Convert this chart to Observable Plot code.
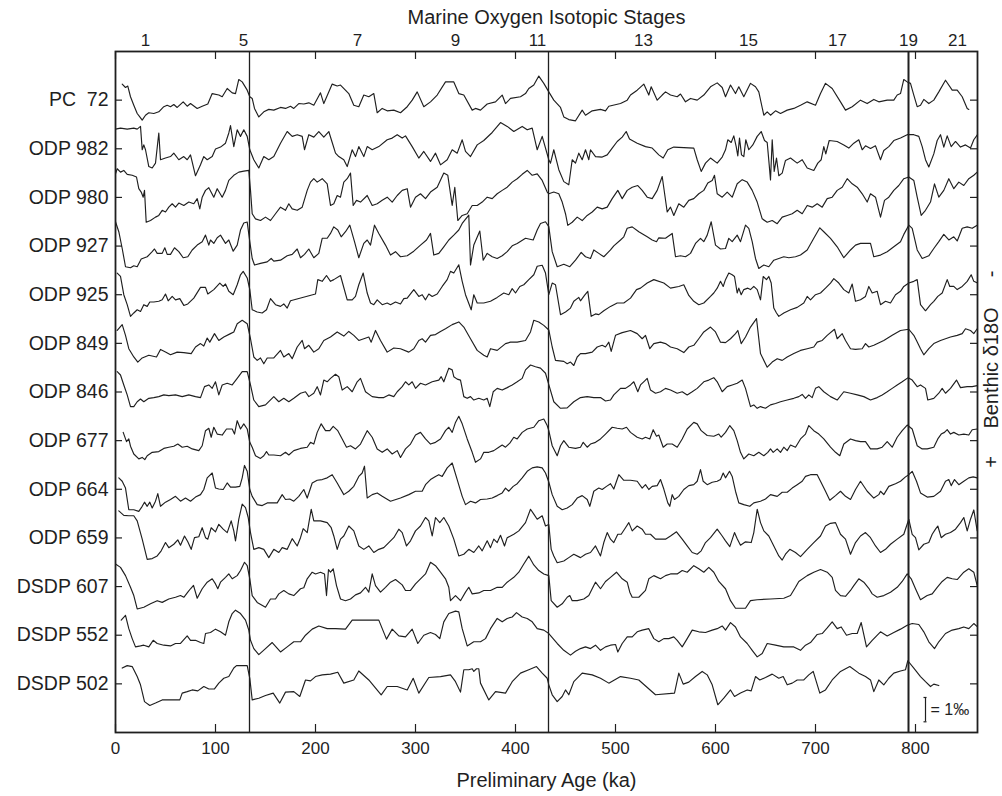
<!DOCTYPE html>
<html><head><meta charset="utf-8">
<script src="https://cdn.jsdelivr.net/npm/d3@7"></script>
<script src="https://cdn.jsdelivr.net/npm/@observablehq/plot@0.6"></script>
<style>html,body{margin:0;padding:0;background:#fff;overflow:hidden}</style>
</head><body><div id="chart"></div>
<script>
// Record names (top to bottom)
const names = ["PC\u00a0 72","ODP 982","ODP 980","ODP 927","ODP 925","ODP 849","ODP 846","ODP 677","ODP 664","ODP 659","DSDP 607","DSDP 552","DSDP 502"];
// Bottom age ticks (ka)
const ageTicks = [0,100,200,300,400,500,600,700,800];
// Stage boundaries drawn as vertical lines (ka)
const stageBoundaries = [134, 433, 793];
// Marine isotope stage labels along the top
const stageNames = ["1","5","7","9","11","13","15","17","19","21"];
const stageAges  = [30,128,242,340,422,528,633,722,793,842];

// Each record: [age (ka), benthic d18O anomaly (permil, + = heavier, plotted downward)]
const pc72 = [[6.7,-0.66],[10,-0.52],[12.3,-0.58],[15,-0.14],[18.3,0.21],[21.7,0.55],[24.3,0.69],[26.7,0.82],[30,0.62],[33.3,0.52],[38.3,0.55],[43.3,0.48],[48.3,0.27],[51.7,0.21],[55,0.27],[58.3,0.18],[61.7,0.30],[67.7,0.07],[71.7,0.25],[75,0.14],[81.7,0.34],[86.7,0.25],[92.3,0.16],[96.7,-0.27],[103.3,-0.21],[106.7,-0.14],[111.7,-0.48],[116.7,-0.30],[120,-0.27],[123.3,-0.85],[126.7,-0.75],[131.7,-0.41],[134.3,-0.14],[136.7,-0.07],[139,0.34],[143.3,0.69],[148.3,0.48],[153.3,0.38],[158.3,0.41],[165,0.30],[170,0.34],[175,0.25],[178.3,0.34],[183.3,0.14],[188.3,0.16],[193.3,0.11],[198.3,0.21],[205,-0.30],[208.3,0.14],[216.7,-0.66],[221.7,-0.58],[225,-0.62],[233.3,-0.27],[238.3,0.21],[243.3,0.27],[248.3,-0.21],[253.3,-0.14],[258.3,-0.27],[261.7,0.52],[266.7,0.34],[271.7,0.44],[278.3,0.41],[285,0.52],[291.7,0.27],[296.7,0],[301.7,-0.34],[308.3,0.27],[315,0.07],[321.7,-0.21],[330,-0.75],[338.3,-0.75],[343.3,-0.27],[348.3,-0.21],[356.7,0.41],[360,0.34],[365,0.41],[371.7,0.16],[380,0.07],[386.7,-0.21],[390,0.14],[395,-0.07],[405,-0.14],[410,-0.27],[413.3,-0.48],[418.3,-0.62],[423.3,-0.99],[428.3,-0.69],[433.3,-0.34],[438.3,0],[445,0.30],[448.3,0.69],[453.3,0.80],[460,0.85],[466.7,0.41],[470,0.62],[476.7,0.44],[485,0.38],[490,0.44],[493.3,0.25],[505,0.14],[511.7,0],[515,-0.21],[521.7,-0.41],[528.3,-0.66],[533.3,-0.21],[535.7,-0.55],[541.7,0],[546.7,-0.21],[550,-0.34],[555,-0.21],[561.7,-0.14],[565,-0.25],[570,0.07],[575,-0.07],[581.7,0],[588.3,-0.21],[595,-0.55],[601.7,-0.71],[606.7,-0.52],[610,-0.14],[615,-0.62],[620,-0.27],[623.3,-0.55],[628.3,-0.14],[635,-0.69],[640,-0.55],[643.3,-0.34],[648.3,0.62],[651.7,0.48],[655,0.62],[660,0.44],[665,0.55],[671.7,0.41],[678.3,0.34],[685,0.21],[691.7,0.07],[700,0.21],[705,-0.27],[710,-0.69],[716.7,-0.48],[725,0.07],[730,0.41],[736.7,0.27],[745,0],[751.7,0.14],[758.3,-0.03],[763.3,0.07],[771.7,0],[778.3,0],[781.7,-0.21],[785,-0.27],[788.3,-0.85],[791.7,-0.75],[795,-0.69],[798.3,-0.21],[801.7,0.27],[805,0.21],[808.3,-0.03],[813.3,0.14],[818.3,0],[823.3,-0.34],[830,-0.82],[836.7,-0.41],[841.7,-0.41],[846.7,-0.14],[851.7,0.34],[853.3,0.38]];

const odp982 = [[0,-0.81],[5,-0.85],[11.7,-0.81],[18.3,-0.85],[21.7,-0.81],[25,-0.92],[26.7,0.04],[28.3,-0.16],[30,0.04],[33.3,0.73],[36.7,0.79],[40,0.59],[43.3,-0.65],[45,0.45],[50,0.38],[55,0.32],[58.3,0.18],[63.3,0.45],[68.3,0.32],[71.7,0.45],[75,0.25],[80,1.11],[85,0.66],[88.3,0.32],[91.7,0.45],[96.7,0.32],[100,0.01],[105,-0.07],[110,-0.23],[113.3,-0.65],[115,-0.95],[118.3,-0.09],[121.7,-0.78],[125,-0.51],[128.3,-0.78],[131.7,-0.51],[134.3,0.04],[138.3,0.45],[143.3,0.79],[148.3,0.32],[153.3,0.45],[158.3,0.32],[165,-0.23],[171.7,-0.71],[176.7,-0.51],[181.7,-0.58],[186.7,-0.51],[189,0.04],[193.3,-0.58],[198.3,-0.48],[203.3,-0.71],[208.3,-0.48],[213.3,-0.71],[216.7,-0.26],[220,0.18],[223.3,0.32],[228.3,0.45],[231.7,0.73],[236.7,0.04],[240,0.32],[243.3,-0.09],[248.3,0.32],[251.7,-0.09],[256.7,0.04],[263.3,-0.09],[271.7,-0.37],[276.7,-0.44],[281.7,-0.58],[286.7,-0.44],[290,-0.53],[296.7,-0.09],[303.3,0.38],[308.3,0.11],[315,0.52],[320,0.18],[325,0.66],[331.7,0.45],[336.7,0.04],[341.7,0.18],[346.7,-0.37],[350,0.11],[355,0.32],[361.7,-0.16],[368.3,-0.34],[376.7,-0.67],[385,-1.08],[391.7,-0.92],[398.3,-0.71],[406.7,-0.92],[411.7,-0.78],[416.7,-0.85],[421.7,0.04],[426.7,-0.51],[433.3,0.45],[435,0.59],[438.3,0.04],[443.3,0.86],[448.3,1.35],[453.3,1.48],[456.7,0.45],[460,0.59],[463.3,0.18],[466.7,0.45],[470,0.04],[473.3,0.45],[475,0.04],[480,0.32],[486.7,0.34],[491.7,0.25],[496.7,-0.03],[501.7,-0.30],[506.7,-0.48],[510.7,-0.71],[514,-0.40],[521.7,-0.23],[530,-0.09],[536.7,-0.03],[543.3,0.25],[547.7,0.38],[552.3,0.04],[558.3,-0.07],[578.3,-0.03],[581.7,0.45],[585.7,0.93],[590,0.59],[595,0.38],[601.7,0.59],[606.7,0.34],[610,0.04],[612.3,-0.37],[615.7,-0.26],[618.3,-0.53],[620.7,-0.09],[622.3,0.29],[624,-0.44],[626,0.25],[628.3,0.32],[630.3,-0.37],[633.3,0.04],[637.3,-0.16],[641.7,-0.51],[645.7,-0.71],[649,-0.34],[651.7,-0.26],[653.7,0.66],[655,1.28],[656.7,-0.37],[658.7,0.93],[661,0.38],[663.3,1.11],[666.7,1.0],[670,0.48],[675,0.38],[681.7,0.59],[686.7,0.45],[691.7,0.79],[698.3,0.89],[702.3,0.59],[705.7,0.45],[708.3,-0.09],[710.3,0.21],[713.7,-0.34],[721.7,-0.30],[728.3,-0.16],[733.3,-0.03],[738.3,-0.23],[743.3,-0.37],[746.7,0.04],[750,-0.12],[755,-0.01],[760,-0.12],[765,0.45],[768.3,0.07],[773.3,-0.09],[778.3,-0.34],[785,-0.44],[791.7,-0.58],[798.3,-0.58],[803.3,-0.51],[806.7,-0.09],[810,0.45],[813.3,0.75],[818.3,0.21],[821.7,-0.34],[825,-0.58],[828.3,-0.07],[831.7,-0.53],[835.7,-0.09],[840,-0.30],[845,-0.07],[850,-0.16],[855,-0.03],[858.3,-0.37],[862,-0.58]];

const odp980 = [[0,-0.97],[1.7,-1.18],[5,-1.04],[8.3,-1.11],[11.7,-0.95],[16.7,-0.91],[21,-0.84],[23.3,-0.36],[25.7,-0.22],[27.7,-0.01],[29,-0.29],[30.7,1.02],[35,0.95],[40,0.81],[43.3,0.74],[46.7,0.53],[50,0.60],[53.3,0.40],[56.7,0.26],[60,0.40],[63.3,0.23],[68.3,0.33],[73.3,0.19],[78.3,0.26],[81.7,0.05],[84.3,0.47],[86.7,-0.01],[90,-0.29],[93.3,-0.40],[98.3,-0.01],[101.7,-0.36],[106.7,-0.01],[110,-0.29],[113.3,-0.70],[118.3,-0.91],[123.3,-1.04],[128.3,-1.08],[133.3,-1.11],[135,-0.29],[136.7,0.67],[140,0.88],[145,0.95],[150,0.81],[155,0.95],[160,0.67],[165,0.40],[170,0.53],[173.3,0.26],[176.7,0.47],[181.7,0.53],[186.7,0.40],[191.7,-0.29],[195,-0.63],[198.3,-0.77],[201.7,-0.63],[206.7,-0.77],[211.7,-0.56],[215,0.33],[218.3,0.26],[221.7,-0.08],[225,-0.01],[228.3,-0.63],[231.7,-0.77],[235,-1.0],[237.7,0.33],[241,0.12],[245,0.19],[251.7,-0.08],[256.7,0.33],[261.7,0.26],[266.7,0.12],[271.7,-0.01],[276.7,0.19],[281.7,-0.08],[286.7,-0.29],[291.7,-0.36],[295,0.40],[300,-0.01],[305,-0.15],[310,0.05],[315,-0.22],[321.7,-0.42],[328.3,-1.0],[332.3,-0.91],[336.7,0.33],[339.3,-0.42],[342.3,0.95],[346.7,0.74],[351.7,0.67],[356.7,0.33],[361.7,0.33],[366.7,0.19],[371.7,-0.01],[376.7,0.05],[381.7,-0.15],[386.7,-0.29],[391.7,-0.42],[396.7,-0.63],[401.7,-0.77],[406.7,-0.95],[411.7,-1.11],[416.7,-0.91],[421.7,-0.97],[426.7,-0.70],[431.7,-0.22],[433.3,-0.15],[438.3,-0.22],[443.3,-0.15],[446.7,0.19],[450,0.67],[452.3,1.15],[456.7,1.02],[461.7,0.81],[466.7,0.95],[471.7,0.74],[476.7,0.60],[481.7,0.40],[486.7,0.47],[491.7,0.40],[496.7,0.05],[502.3,-0.29],[506.7,0.05],[511.7,-0.29],[516.7,-0.42],[522.3,-0.49],[526.7,-0.29],[531.7,-0.01],[536.7,0.05],[541.7,-0.29],[546.7,-0.86],[551.7,0.60],[555,0.40],[558.3,0.74],[563.3,0.26],[568.3,0.40],[573.3,0.12],[578.3,0.05],[583.3,-0.15],[588.3,-0.29],[592.3,-0.59],[596.7,-0.70],[599,-0.91],[601.7,-0.15],[606.7,-0.01],[611.7,-0.22],[616.7,-0.01],[621.7,-0.56],[626.7,-0.73],[631.7,-0.63],[636.7,-0.29],[641.7,0.19],[646.7,0.88],[651.7,1.02],[656.7,0.95],[661.7,1.08],[666.7,0.81],[671.7,0.74],[676.7,0.67],[681.7,0.53],[686.7,0.67],[691.7,0.33],[696.7,0.40],[701.7,0.26],[706.7,0.40],[711.7,0.05],[716.7,-0.01],[721.7,-0.29],[726.7,-0.42],[731.7,-0.77],[736.7,-0.56],[741.7,-0.42],[746.7,-0.15],[751.7,0.19],[755,-0.15],[760,-0.01],[765,0.81],[769,0.12],[773.3,-0.01],[778.3,-0.29],[783.3,-0.49],[788.3,-0.77],[793.3,-0.84],[798.3,-0.70],[801.7,-0.01],[805.7,0.74],[810,0.53],[815,0.19],[819,-0.56],[823.3,-0.01],[828.3,-0.29],[833.3,-0.77],[838.3,-0.36],[843.3,-0.63],[848.3,-0.49],[853.3,-0.77],[858.3,-0.91],[861.7,-1.04]];

const odp927 = [[0,-1.0],[3.3,-0.59],[6.7,0.10],[10,0.85],[15,0.89],[18.3,0.81],[21.7,0.85],[25.7,0.53],[31.7,0.44],[36.7,0.23],[39,0.12],[41.7,0.30],[46.7,0.30],[49.3,0.07],[51.7,0.34],[55,0.34],[59,0.07],[63.3,0.23],[67.7,0.48],[72.3,0.44],[76.7,0.16],[81.7,-0.04],[86.7,-0.18],[90,-0.45],[93.3,-0.04],[95,-0.25],[98.3,-0.11],[101.7,-0.34],[105,-0.45],[110,-0.11],[113.3,-0.25],[117.7,0.21],[121.7,-0.04],[125,-0.66],[128.3,-0.95],[131.7,-0.99],[134.3,-0.18],[136.7,0.51],[139,0.78],[145,0.71],[151.7,0.65],[155.7,0.51],[158.3,0.62],[165,0.58],[171.7,0.40],[176.7,0.34],[181.7,0.12],[185,0.48],[189,0.34],[193.3,0.12],[198.3,0.48],[203.3,0.30],[206.7,-0.32],[211.7,-0.32],[215,-0.52],[218.3,-0.79],[222.3,-0.66],[225.7,-0.38],[230,-0.59],[234.3,-0.86],[239,-0.18],[243.3,0.48],[248.3,-0.11],[251.7,-0.25],[255,-0.04],[259,-0.86],[263.3,-0.52],[270,-0.04],[275,0.37],[280,0.23],[285,0.44],[291.7,0.40],[298.3,0.21],[305,-0.04],[311,-0.25],[315,-0.52],[318.3,0.37],[323.3,0.30],[328.3,0.03],[333.3,-0.25],[338.3,-0.45],[343.3,-0.66],[346.7,-0.93],[353.3,-1.27],[355,0.78],[358.3,-0.04],[364.3,-0.62],[367.7,0.58],[371.7,0.30],[376.7,0.44],[381.7,0.51],[386.7,0.40],[391.7,0.23],[396.7,-0.01],[401.7,-0.11],[410,-0.32],[417.7,-0.25],[421.7,-0.66],[425,-0.93],[430,-1.0],[433.3,-0.8],[436.7,0.23],[441.7,0.85],[448.3,0.75],[454.3,0.85],[460,0.58],[465.7,0.26],[470,0.44],[475,0.51],[478.3,0.16],[483.3,0.30],[488.3,0.44],[495,0.16],[498.3,-0.01],[505,-0.25],[508.3,-0.38],[511.7,-0.73],[516.7,-0.79],[523.3,-0.59],[531.7,-0.38],[536.7,-0.25],[541,-0.18],[543.3,-0.34],[550,-0.32],[556.7,-0.52],[560,0.44],[565,0.40],[570,0.44],[575,0.30],[580,-0.11],[585,-0.32],[588.3,-0.18],[591.7,-0.45],[595.7,-1.0],[600,-0.04],[605,0.12],[610,0.10],[613.3,-0.32],[616.7,-0.18],[621.7,-0.45],[625,-0.18],[630,-0.86],[633.3,-0.73],[636.7,-0.18],[640,0.51],[643.3,0.92],[648.3,0.78],[653.3,0.85],[658.3,0.58],[663.3,0.51],[668.3,0.44],[673.3,0.48],[680,0.44],[685,0.37],[691.7,0.16],[698.3,-0.32],[704.3,-0.75],[708.3,-0.59],[715,-0.32],[721.7,0.03],[728.3,0.48],[735,0.16],[740,-0.04],[745,-0.11],[750,-0.11],[755,-0.11],[758.3,0.44],[765,0.37],[771.7,0.23],[778.3,0.03],[785,-0.18],[788.3,-0.48],[793.3,-0.86],[796.7,-0.73],[801.7,0.16],[806.7,0.51],[813.3,0.40],[818.3,0.10],[823.3,-0.18],[828.3,-0.48],[833.3,-0.25],[838.3,-0.38],[841.7,-0.21],[846.7,-0.73],[851.7,-0.79],[856.7,-0.73],[861.7,-0.86]];

const odp925 = [[1.7,-0.89],[5,-0.75],[8.3,0],[11.7,0.41],[15,0.89],[18.3,0.75],[21.7,0.62],[25,0.69],[28.3,0.41],[31.7,0.48],[34.3,0.30],[38.3,0.30],[43.3,0.27],[46.7,0.21],[50,-0.03],[52.7,0.25],[56.7,0.07],[60,0.21],[64.3,0.16],[68.3,0.44],[72.3,0.38],[78.3,0.14],[85,-0.30],[90,-0.30],[92.3,-0.03],[98.3,-0.21],[104.3,-0.48],[107.7,-0.34],[110,-0.44],[113.3,-0.14],[117.7,0],[121.7,-0.41],[125,-0.82],[127.7,-0.96],[131.7,-0.69],[134.3,-0.21],[136.7,0.62],[141.7,0.71],[146.7,0.75],[151,0.62],[155,0.16],[160,0.41],[165,0.48],[168.3,0.38],[171.7,0.55],[175,0.25],[200,-0.03],[202.3,-0.62],[206.7,-0.55],[211,-0.79],[215,-0.55],[218.3,-0.62],[225,-0.79],[231.7,0.21],[236.7,0.21],[240,0.07],[243.3,-0.41],[247.7,-0.89],[251.7,-0.07],[255,0.34],[258.3,0.41],[261.7,0.21],[266.7,0.41],[271.7,0.34],[275,0.41],[280,0.30],[285,0.38],[288.3,0.16],[291.7,0.14],[298.3,-0.21],[303.3,0.07],[306.7,0],[310,0.21],[313.3,-0.03],[316.7,0.07],[321.7,-0.03],[326.7,-0.34],[331.7,-0.62],[335,-0.96],[338.3,-0.89],[343.3,-1.23],[346.7,-0.55],[350,0],[355.7,0.62],[358.3,0],[361.7,0.34],[368.3,0.34],[375,0.27],[381.7,0.11],[388.3,-0.07],[393.3,0],[396.7,-0.25],[400,-0.07],[404.3,-0.34],[408.3,-0.41],[413.3,-0.62],[418.3,-0.82],[421.7,-1.17],[426.7,-1.21],[430,-0.89],[433.3,0],[436.7,-0.48],[440,-0.41],[445,0.82],[450,0.71],[455,0.55],[458.3,0.27],[463.3,0.11],[465,0.25],[469,0.03],[472.3,-0.14],[475.7,0.89],[480,0.79],[483.3,0.82],[488.3,0.66],[495,0.48],[501.7,0.34],[508.3,0.34],[515,0.14],[521,-0.21],[525,-0.27],[531.7,-0.48],[538.3,-0.62],[548.3,-0.48],[555,-0.27],[563.3,-0.34],[568.3,-0.41],[573.3,0.03],[578.3,0.27],[583.3,0.41],[588.3,0.34],[595,0.07],[598.3,-0.07],[601.7,-0.27],[605,-0.55],[607.7,-0.34],[610,-0.62],[613.3,-0.89],[616.7,-0.82],[619,-0.75],[621.7,-0.07],[623.3,-0.27],[625.7,0],[628.3,-0.21],[632.3,-0.27],[635,-0.21],[638.3,-0.34],[641.7,-0.21],[645,0.21],[647.7,-0.75],[651,-0.62],[653.3,-0.75],[655.7,-0.48],[658.3,0.55],[661,0.75],[663.3,0.89],[668.3,0.75],[675,0.62],[681.7,0.52],[688.3,0.34],[691.7,0.07],[695,0.21],[700,0],[705,-0.07],[710,-0.27],[715,-0.48],[718.3,-0.66],[723.3,-0.48],[728.3,-0.21],[733.3,-0.07],[736.7,-0.44],[740,0.27],[745,0.21],[750,0.07],[753.3,-0.34],[756.7,-0.07],[761.7,-0.14],[765,0.41],[770,0.27],[775,0.34],[780,0],[785,-0.14],[788.3,-0.34],[793.3,-0.48],[798.3,-0.55],[801.7,-0.62],[805,0.41],[810,0.66],[815,0.41],[818.3,0.27],[822.3,0.07],[826.7,-0.07],[831.7,-0.62],[834.3,-0.34],[838.3,-0.34],[841.7,-0.21],[846.7,-0.34],[851.7,-0.55],[855.7,-0.82],[858.3,-0.55],[862,-0.48]];

const odp849 = [[1.7,-0.53],[6.7,-0.77],[10,-0.33],[13.3,0.22],[18.3,0.56],[22.3,0.77],[26.7,0.60],[33.3,0.49],[41,0.56],[45,0.25],[50,0.36],[55,0.47],[61.7,0.36],[68.3,0.38],[75.7,0.42],[80,0.15],[85,0.01],[88.3,0.11],[91.7,-0.22],[94.3,-0.05],[99,-0.40],[103.3,-0.12],[108.3,-0.26],[115,-0.40],[118.3,-0.47],[121.7,-0.81],[126.7,-0.95],[131.7,-0.81],[135,-0.19],[138.3,0.56],[141.7,0.70],[145,0.60],[148.3,0.84],[151.7,0.60],[158.3,0.60],[165,0.29],[168.3,0.56],[173.3,0.42],[176.7,0.63],[181.7,0.15],[186.7,-0.12],[189,0.22],[193.3,0.08],[198.3,0.36],[203.3,0.22],[208.3,-0.12],[215,-0.26],[221.7,-0.47],[228.3,-0.30],[233.3,-0.49],[238.3,-0.33],[243.3,-0.12],[248.3,-0.19],[253.3,-0.26],[255.7,-0.05],[260,-0.53],[265,-0.12],[271.7,0.36],[278.3,0.19],[285,0.22],[293.3,0.36],[298.3,0.22],[303.3,-0.12],[306.7,-0.19],[310,-0.05],[315,-0.33],[320,-0.36],[325,-0.49],[330,-0.60],[336.7,-0.77],[343.3,-0.88],[348.3,-0.67],[355,-0.19],[361.7,0.29],[368.3,0.49],[371.7,0.56],[375,0.22],[381.7,0.29],[390,0.01],[395,-0.05],[401.7,-0.05],[410,-0.12],[415,-0.47],[418.3,-0.95],[423.3,-0.88],[428.3,-0.74],[433.3,-0.55],[436.7,0.15],[440,0.70],[448.3,0.74],[451.7,0.84],[455,0.77],[458.3,0.91],[461.7,0.56],[465,0.42],[470,0.42],[476.7,0.36],[481.7,0.15],[486.7,0.08],[490,0.15],[493.3,-0.05],[495.7,0.33],[500,-0.33],[506.7,-0.44],[515,-0.53],[521.7,-0.40],[526.7,-0.19],[530,-0.33],[534.3,0.22],[538.3,0.01],[545,-0.05],[550,0.01],[555,0.15],[561.7,0.22],[568.3,0.38],[573.3,0.15],[578.3,0.08],[583.3,-0.19],[588.3,-0.47],[595,-0.67],[600,-0.47],[605,-0.05],[610,-0.03],[615,-0.19],[620,-0.40],[622.3,-0.53],[625.7,0.01],[630,-0.26],[635,-0.67],[641,-1.02],[645,0.42],[651.7,0.98],[656.7,0.77],[661.7,0.63],[666.7,0.70],[671.7,0.56],[678.3,0.42],[685,0.29],[691.7,0.22],[698.3,0.15],[701.7,-0.05],[706.7,-0.12],[711.7,-0.33],[719,-0.58],[721.7,-0.19],[726.7,-0.40],[730,-0.12],[735,0.22],[740,0.25],[746.7,0.22],[750,0.01],[753.3,0.15],[758.3,0.08],[768.3,-0.12],[776.7,-0.33],[785,-0.53],[793.3,-0.58],[798.3,-0.33],[801,-0.12],[805,0.22],[808.3,0.47],[813.3,0.22],[818.3,0.01],[825,-0.12],[835,-0.26],[841.7,-0.33],[846.7,-0.40],[850,-0.60],[855,-0.53],[858.3,-0.40],[861.7,-0.60]];

const odp846 = [[1.7,-0.84],[5,-0.70],[8.3,-0.29],[11.7,0.12],[15,0.60],[18.3,0.60],[21.7,0.40],[25,0.29],[28.3,0.40],[33.3,0.26],[38.3,0.23],[43.3,0.19],[48.3,0.12],[53.3,0.15],[60,0.12],[66.7,0.19],[73.3,0.12],[80,0.19],[85,0.23],[89,-0.22],[93.3,-0.29],[96.7,-0.15],[100,-0.42],[103.3,0.12],[106.7,-0.29],[111.7,-0.36],[116.7,-0.29],[121.7,-0.56],[126.7,-0.84],[131.7,-0.84],[135,-0.29],[138.3,0.33],[143.3,0.60],[150,0.53],[158.3,0.19],[163.3,0.40],[168.3,0.26],[173.3,0.40],[178.3,0.26],[185,0.05],[190,-0.01],[193.3,0.19],[198.3,0.05],[201.7,-0.22],[205,0.12],[208.3,-0.49],[211.7,-0.42],[215,-0.56],[220,-0.73],[223.3,-0.63],[226.7,-0.08],[231.7,-0.22],[236.7,-0.01],[241.7,-0.42],[245,-0.56],[250,-0.01],[256.7,0.19],[263.3,0.23],[268.3,0.23],[273.3,0.12],[278.3,0.19],[281.7,-0.01],[286.7,-0.22],[290,-0.42],[293.3,-0.29],[296.7,-0.42],[300,-0.15],[305,-0.36],[310,-0.29],[316.7,-0.42],[323.3,-0.49],[325.7,-0.63],[328.3,-0.42],[333.3,-0.98],[336.7,-0.91],[338.3,-0.63],[341.7,-0.53],[345,-0.49],[348.3,0.19],[351.7,0.26],[355,0.19],[358.3,0.33],[363.3,0.26],[368.3,0.33],[371.7,0.26],[374.3,0.60],[377.7,-0.01],[381.7,-0.15],[386.7,-0.08],[391.7,-0.18],[396.7,-0.29],[401.7,-0.42],[406.7,-0.56],[410,-0.91],[415,-1.11],[420,-1.04],[425,-0.98],[430,-0.77],[433.3,-0.3],[438.3,0.40],[445,0.67],[451.7,0.65],[458.3,0.40],[465,0.23],[471.7,0.19],[478.3,0.23],[485,0.23],[490,0.37],[495,0.33],[498.3,0.12],[505,-0.15],[510,-0.15],[515,-0.29],[518.3,-0.42],[522.3,-0.01],[525,-0.29],[529,-0.45],[531.7,-0.56],[535,-0.08],[540,0.05],[545,-0.01],[550,-0.15],[555,-0.08],[561.7,0.05],[566.7,-0.01],[571.7,0.12],[576.7,-0.01],[581.7,-0.15],[588.3,-0.42],[593.3,-0.49],[598.3,-0.59],[601.7,-0.42],[606.7,-0.01],[611.7,-0.22],[616.7,-0.29],[621.7,-0.36],[626.7,-0.49],[630,-0.15],[635,0.60],[638.3,0.53],[641.7,0.67],[645,0.60],[650,0.67],[655,0.53],[660,0.47],[665,0.40],[671.7,0.33],[678.3,0.26],[683.3,0.19],[686.7,0.10],[690,0.26],[693.3,0.12],[696.7,0.23],[700,-0.15],[703.3,-0.22],[708.3,-0.01],[715,0.19],[721.7,0.33],[728.3,-0.01],[735,0.05],[741.7,0.12],[748.3,0.19],[755,0.33],[761.7,0.23],[766.7,0.12],[771.7,-0.01],[776.7,-0.15],[781.7,-0.29],[786.7,-0.42],[792.7,-0.59],[796.7,-0.49],[801.7,-0.22],[805,-0.29],[810,-0.15],[812.3,0.33],[818.3,0.26],[823.3,0.05],[826.7,-0.15],[830,0.05],[835,-0.15],[841,-0.49],[845,-0.18],[851.7,-0.22],[856.7,-0.22],[861.7,-0.26]];

const odp677 = [[7.7,-0.34],[11,0.04],[13.3,-0.07],[15,0.23],[18.3,0.55],[23.3,0.75],[26.7,0.69],[29.3,0.78],[31.7,0.62],[36.7,0.48],[43.3,0.45],[48.3,0.32],[53.3,0.27],[58.3,0.23],[62.3,0.14],[66.7,0.27],[71.7,0.23],[76.7,0.34],[83.3,0.41],[86.7,0.21],[90,-0.41],[93.3,-0.51],[95.7,-0.14],[98.3,-0.55],[101.7,-0.27],[106.7,-0.23],[111,-0.48],[116.7,-0.48],[119,-0.27],[121.7,-0.82],[125,-0.48],[128.3,-0.69],[131.7,-0.48],[134.3,0.07],[136.7,0.27],[140,0.62],[145,0.73],[148.3,0.62],[151,0.45],[153.3,0.59],[158.3,0.59],[165,0.62],[170,0.48],[173.3,0.59],[178.3,0.41],[185,0.32],[191.7,0.27],[195,0.07],[198.3,0.14],[201.7,-0.34],[205.7,-0.69],[210,-0.41],[214.3,-0.41],[217.7,-0.59],[222.3,-0.41],[226.7,-0.07],[231,0.27],[235,0.21],[240,0.34],[245,0.14],[251.7,-0.41],[256.7,-0.14],[261.7,0.34],[266.7,0.48],[271.7,0.34],[276.7,0.55],[281.7,0.41],[285,0.69],[290,0.34],[295,0.14],[300,-0.23],[305,-0.34],[310,-0.07],[315,0.14],[320,0.07],[325,-0.07],[330,-0.41],[333.3,-0.55],[336.7,-0.34],[340,-0.75],[343.3,-1.0],[346.7,-0.69],[351.7,-0.07],[356.7,0.48],[360,0.89],[365,0.75],[368.3,0.48],[373.3,0.48],[378.3,0.41],[383.3,0.27],[386.7,0.18],[390,0.27],[394.3,0.10],[398.3,-0.14],[401.7,-0.07],[406.7,-0.34],[411.7,-0.48],[418.3,-0.55],[423.3,-0.82],[428.3,-0.89],[431.7,-0.62],[433.3,-0.41],[436.7,0.21],[441.7,0.62],[445,0.21],[448.3,0],[453.3,0.27],[460,0.32],[465,0.27],[467.7,0.07],[471.7,0.27],[475,0.14],[480,0.07],[485,-0.07],[490,-0.27],[496.7,-0.55],[501.7,-0.51],[506.7,-0.48],[511,-0.55],[515,-0.34],[521.7,-0.14],[526.7,-0.07],[530,-0.14],[534.3,-0.07],[537.7,-0.45],[541,-0.18],[543.3,-0.23],[547.7,0.27],[551.7,0.14],[556.7,0.14],[561.7,0.27],[566.7,-0.07],[571.7,-0.48],[578.3,-0.75],[581.7,-0.69],[585.7,-0.41],[591.7,-0.21],[598.3,-0.18],[603.3,-0.27],[605.7,-0.14],[610,-0.34],[614.3,-0.62],[618.3,-0.41],[621.7,0],[625,0.48],[628.3,0.75],[633.3,0.55],[638.3,0.62],[643.3,0.48],[648.3,0.62],[652.3,0.48],[655,0.34],[657.7,0.48],[661.7,0.34],[665,0.48],[668.3,0.27],[671.7,0.41],[675,0.18],[680,0.27],[685,-0.07],[690,-0.27],[693.3,-0.62],[698.3,-0.41],[703.3,-0.27],[708.3,-0.07],[715,0.27],[720,0.48],[724.3,0.62],[728.3,0.14],[735,-0.07],[740,0],[745,0.04],[750,0.04],[755,0.34],[761.7,0.34],[766.7,0.27],[771.7,0.04],[776.7,0.27],[781.7,-0.14],[786.7,-0.41],[791.7,-0.64],[796.7,-0.48],[801.7,0.21],[806.7,0.34],[811.7,0.34],[818.3,0.27],[822.3,-0.07],[825.7,-0.27],[829,-0.34],[831.7,-0.45],[835,-0.27],[838.3,-0.34],[843.3,-0.23],[848.3,-0.27],[853.3,-0.23],[856.7,-0.45],[861.7,-0.48]];

const odp664 = [[3.3,-0.47],[6.7,-0.33],[10,-0.05],[13.3,0.84],[18.3,0.84],[23.3,0.91],[26.7,0.70],[29,0.53],[31.7,0.70],[34.3,0.53],[36.7,0.77],[40,0.49],[42.3,0.18],[45,0.70],[50,0.53],[55,0.42],[60,0.29],[65,0.49],[70,0.36],[75,0.49],[80,0.32],[85,0.22],[88.3,0.01],[91.7,-0.47],[96.7,-0.67],[100,-0.05],[103.3,-0.01],[107.7,0.01],[111.7,-0.26],[115,-0.09],[120,-0.09],[124.3,-0.12],[126.7,-0.47],[129,-0.98],[131.7,-0.74],[134.3,0.01],[136.7,0.29],[141.7,0.63],[146.7,0.67],[151.7,0.56],[156.7,0.56],[161.7,0.56],[166.7,0.22],[170,0.42],[174.3,0.40],[178.3,0.49],[183.3,0.29],[188.3,0.01],[191.7,0.36],[196.7,-0.26],[201.7,-0.37],[206.7,-0.40],[211.7,-0.47],[216.7,-0.60],[221.7,-0.26],[228.3,0.22],[233.3,0.08],[238.3,-0.12],[243.3,-0.53],[246.7,-0.67],[249,-0.95],[251.7,0.36],[256.7,0.22],[261.7,0.15],[266.7,0.29],[275,0.49],[285,0.36],[293.3,0.22],[300,0.08],[306.7,0.08],[310,-0.19],[315,-0.40],[320,-0.53],[323.3,-0.60],[326.7,-0.53],[331.7,-0.88],[336.7,-1.08],[341.7,-0.40],[346.7,0.29],[350,0.63],[355,0.49],[360,0.56],[365,0.42],[371.7,0.40],[376.7,0.36],[381.7,0.26],[386.7,0.15],[390,-0.05],[393.3,0.08],[397.7,-0.12],[401.7,-0.23],[406.7,-0.47],[411.7,-0.74],[416.7,-0.88],[421.7,-0.92],[426.7,-0.88],[430,-0.67],[433.3,-0.3],[436.7,0.22],[441.7,0.70],[446.7,0.84],[451.7,0.77],[456.7,0.63],[461.7,0.36],[466.7,0.26],[471.7,0.42],[474.3,0.70],[478.3,0.08],[483.3,-0.05],[486.7,0.01],[491,-0.12],[495,-0.23],[498.3,-0.01],[503.3,-0.60],[508.3,-0.37],[515,-0.37],[521.7,-0.33],[526.7,-0.05],[530,-0.19],[533.3,0.01],[536.7,-0.12],[541.7,-0.15],[545,-0.40],[548.3,-0.01],[552.3,0.56],[554.3,0.70],[556.7,0.22],[559,0.42],[563.3,0.29],[568.3,0.01],[573.3,-0.15],[578.3,-0.19],[581.7,-0.33],[585,-0.81],[587.7,-0.33],[591.7,-0.19],[596.7,-0.29],[601.7,-0.33],[605,-0.40],[607.7,-0.67],[610,-0.47],[614,-0.74],[616.7,-0.53],[620,0.08],[623.3,0.56],[628.3,0.63],[634.3,0.70],[638.3,0.56],[645,0.49],[650,0.40],[655,0.22],[661.7,0.29],[666.7,0.12],[671.7,0.12],[676.7,-0.05],[681.7,-0.19],[686.7,-0.33],[690,-0.53],[695,-0.60],[701.7,-0.60],[705,-0.33],[710,0.08],[714.3,0.45],[720,0.26],[725,0.08],[730,0.29],[735,0.42],[740,0.01],[745,-0.33],[751.7,0.08],[758.3,0.36],[763.3,0.22],[765,0.08],[768.3,0.22],[773.3,-0.12],[780,-0.23],[785,-0.33],[790,-0.51],[793.3,-0.60],[796.7,-0.74],[801,-0.33],[805,0.15],[811.7,0.32],[818.3,0.29],[825,0.08],[830,-0.33],[833.3,-0.40],[835.7,-0.15],[839,-0.40],[843.3,-0.19],[848.3,-0.33],[853.3,-0.47],[857.7,-0.51],[861.7,-0.47]];

const odp659 = [[3.3,-1.11],[8.3,-0.93],[13.3,-0.91],[18.3,-0.91],[21.7,-0.70],[26.7,0.05],[31.7,0.88],[36.7,0.85],[41.7,0.74],[45.7,0.53],[50,0.19],[53.3,0.40],[58.3,0.26],[62.3,0.08],[65,0.30],[69,-0.08],[72.3,0.16],[75.7,0.47],[79,-0.01],[83.3,-0.05],[86.7,-0.42],[90,-0.01],[92.3,0.05],[95.7,-0.42],[100,-0.25],[103.3,-0.56],[107.7,-0.36],[111.7,-0.22],[115.7,-0.70],[118.3,-0.29],[120,0.12],[123.3,-0.77],[126.7,-1.39],[130,-1.25],[132.7,-0.84],[135,-0.22],[138.3,0.47],[143.3,0.40],[148.3,0.47],[153.3,0.81],[158.3,0.47],[163.3,0.60],[166.7,0.40],[171.7,0.47],[176.7,0.03],[181.7,0.33],[185,-0.01],[187.7,-0.38],[191.7,-0.22],[195.7,-1.18],[198.3,-0.70],[205,-0.70],[211.7,-0.63],[215.7,-0.42],[218.3,-0.08],[221.7,0.47],[225,0.05],[228.3,-0.08],[233.3,-0.49],[238.3,-0.29],[243.3,0.33],[248.3,0.47],[253.3,0.33],[258.3,0.60],[263.3,0.47],[268.3,0.40],[273.3,0.19],[278.3,-0.01],[283.3,-0.36],[286.7,-0.22],[291,0.33],[295,0.12],[300,-0.29],[305,-0.49],[310,-0.84],[313.3,-0.70],[316.7,-0.08],[320,-0.84],[324.3,-0.63],[328.3,-0.84],[333.3,-0.49],[338.3,0.05],[343.3,0.74],[348.3,0.67],[353.3,0.47],[358.3,0.60],[363.3,0.33],[366.7,0.53],[371.7,0.12],[375,0.40],[378.3,0.05],[381.7,0.19],[385,-0.11],[389,0.33],[391.7,-0.01],[398.3,-0.15],[403.3,-0.29],[410,-0.63],[415,-1.18],[418.3,-0.98],[421.7,-0.77],[426.7,-0.91],[430,-0.49],[433.3,-0.55],[435.7,0.47],[438.3,0.74],[441.7,1.02],[448.3,0.95],[453.3,0.81],[458.3,0.67],[465,0.81],[470,0.67],[475,0.60],[480,0.33],[485,0.74],[488.3,0.19],[491.7,-0.22],[495,0.05],[498.3,0.19],[502.3,-0.15],[505.7,-0.15],[510,-0.42],[513.3,-0.63],[516.7,-0.29],[521.7,-0.49],[526.7,-0.36],[530,-0.15],[535,-0.15],[540,0.05],[545,0.05],[550,0.05],[555,-0.08],[561,-0.25],[566.7,0.05],[571.7,0.33],[576.7,0.60],[581.7,0.67],[585.7,0.53],[590,0.19],[595,-0.01],[601.7,-0.36],[606.7,-0.08],[610,0.12],[614.3,0.36],[619,-0.22],[621.7,0.03],[625,0.30],[630,0.16],[635.7,0.19],[638.3,-0.22],[641.7,-1.18],[645,-0.63],[648.3,-0.29],[653.3,-0.08],[658.3,0.33],[663.3,0.74],[666.7,0.91],[670,0.67],[674.3,0.47],[680,0.60],[685,0.77],[691.7,0.47],[698.3,0.19],[705,-0.08],[710,-0.49],[715,-0.60],[720,-0.63],[725,-0.15],[730,0.05],[735,0.67],[740,0.19],[745,-0.08],[750,-0.22],[755,-0.01],[760,0.33],[765,0.60],[770,0.47],[775,0.26],[781.7,0.05],[788.3,-0.15],[793.3,-0.77],[796.7,-0.15],[800,-0.01],[803.3,0.49],[808.3,0.26],[813.3,0.19],[816.7,-0.15],[820,-0.36],[822.3,-0.49],[825.7,-0.01],[830,-0.15],[835,-0.22],[840,-0.36],[845,-0.63],[848.3,-0.84],[851.7,-0.29],[855,-0.77],[858.3,-1.15],[861.7,-0.29]];

const dsdp607 = [[0,-0.93],[5,-0.79],[10,-0.45],[15,0.03],[18.3,0.37],[21.7,0.92],[28.3,0.85],[35,0.71],[41.7,0.58],[46.7,0.65],[53.3,0.51],[60,0.44],[65,0.37],[68.3,0.44],[72.3,0.23],[75,0.09],[78,-0.05],[81.7,0.48],[86.7,0.09],[91.7,-0.18],[96.7,-0.32],[100,-0.11],[102.3,0.09],[105,-0.18],[110,-0.38],[113.3,-0.52],[116.7,-0.32],[121.7,-0.45],[125,-0.66],[129,-1.0],[131.7,-0.86],[134.3,-0.32],[136.7,0.37],[141.7,0.65],[150,0.85],[155,0.51],[160,0.51],[163.3,0.30],[168.3,0.16],[173.3,0.30],[178.3,0.37],[185,0.09],[188.3,0.05],[191.7,-0.32],[196.7,-0.59],[200,-0.52],[205,-0.59],[209,-0.52],[211,0.37],[213,-0.70],[215,-0.59],[217.7,-0.73],[221,-0.04],[225,0.51],[230,0.58],[235,0.51],[240,0.34],[245,0.26],[250,0.03],[253.3,0.23],[256.7,-0.52],[260,-0.04],[265,0.23],[270,0.03],[275,-0.18],[280,-0.29],[286.7,-0.07],[290,0.16],[295,0.16],[300,-0.11],[305,-0.32],[310,-0.52],[315,-1.0],[320,-0.86],[325,-0.59],[330,-0.32],[333.3,0.03],[335,0.58],[340,0.37],[345,0.58],[350,0.23],[353.3,0.03],[356.7,0.30],[363.3,0.26],[368.3,0.16],[375,0.16],[381.7,0.03],[386.7,0.03],[391.7,-0.18],[398.3,-0.38],[403.3,-0.59],[408.3,-0.93],[413.3,-1.25],[418.3,-0.89],[423.3,-0.66],[428.3,-0.52],[433.3,-0.45],[435.7,0.58],[441.7,0.85],[446.7,0.71],[451.7,0.44],[454.3,0.37],[456.7,0.58],[461.7,0.58],[468.3,0.51],[473.3,0.37],[478.3,-0.04],[480,-0.18],[485,0.09],[490,-0.21],[495,-0.38],[501,-0.59],[506.7,-0.32],[511.7,-0.18],[514.3,0.23],[516.7,0.44],[523.3,0.44],[530,0.16],[533.3,-0.32],[538.3,-0.45],[545,-0.32],[550,-0.45],[555,-0.52],[561.7,-0.52],[566.7,-0.66],[571.7,-0.59],[578.3,-0.86],[583.3,-0.73],[588.3,-0.59],[593.3,-0.79],[598.3,-0.59],[603.3,-0.21],[610,0.09],[615,0.58],[620,0.89],[630,0.89],[635,0.58],[641.7,0.54],[655,0.51],[668.3,0.48],[675,0.37],[680,0.03],[683.3,-0.21],[691.7,-0.45],[698.3,-0.59],[705,-0.70],[711.7,-0.59],[716.7,-0.38],[720,0.16],[725,0.37],[730,0.40],[735,0.16],[738.3,-0.04],[743.3,-0.32],[748.3,-0.18],[753.3,0.07],[756.7,0.30],[761.7,0.44],[768.3,0.37],[775,0.23],[781.7,0.03],[786.7,-0.21],[791.7,-0.52],[795.7,-0.32],[800,0.09],[805,0.54],[811.7,0.37],[816.7,0.30],[821.7,0.03],[826.7,-0.21],[831.7,-0.38],[836.7,-0.32],[841.7,-0.29],[848.3,-0.59],[853.3,-0.73],[858.3,-0.59],[861.7,-0.04]];

const dsdp552 = [[5.7,-0.62],[10,-0.82],[13.3,-0.27],[16.7,0.14],[20,0.48],[25,0.44],[28.3,0.41],[33.3,0.48],[37.7,0.21],[41.7,0.34],[48.3,0.41],[55,0.44],[60,0.34],[65,0.34],[71.7,0.03],[75,0.21],[80,0.21],[85,0.30],[88.3,0.34],[90,-0.07],[95,-0.11],[100,-0.25],[105,-0.14],[110,0],[113.3,-0.55],[116.7,-0.89],[120,-1.03],[125,-0.89],[130,-0.62],[133.3,-0.21],[135,0.21],[138.3,0.55],[143.3,0.80],[150,0.55],[156.7,0.30],[165,0.69],[171.7,0.48],[178.3,0.27],[185,0.27],[190,0],[196.7,-0.25],[203.3,-0.38],[211.7,-0.27],[220,-0.27],[230,-0.25],[236.7,-0.62],[248.3,-0.62],[263.3,-0.62],[271,0.16],[276.7,-0.25],[283.3,0.03],[290,0.07],[296.7,-0.25],[302.3,0.34],[308.3,0],[315,-0.11],[320,-0.03],[324.3,0.14],[328.3,-0.55],[333.3,-0.89],[340,-0.99],[343.3,-0.96],[346.7,-0.27],[351.7,0.44],[358.3,0.27],[365,0.27],[370,0.14],[375,-0.27],[381.7,-0.69],[386.7,-0.55],[391.7,-0.69],[396.7,-0.75],[401,-0.93],[406.7,-0.75],[411.7,-0.69],[416.7,-0.55],[421.7,-0.27],[428.3,-0.21],[433.3,-0.07],[441.7,0.34],[448.3,0.62],[455,0.82],[460,0.66],[465,0.55],[470,0.48],[475,0.55],[480,0.41],[485,0.62],[490,0.48],[495,0.41],[500,0.38],[502.3,0.69],[506.7,0.34],[511.7,0.07],[516.7,0.07],[521.7,-0.14],[526.7,-0.21],[533.3,-0.27],[538.3,0.14],[543.3,0.27],[548.3,0.14],[553.3,0.14],[558.3,0.07],[561.7,0.21],[566.7,0.48],[571.7,0.14],[576.7,-0.21],[583.3,-0.14],[590,-0.11],[596.7,-0.21],[601.7,-0.27],[606.7,-0.38],[610,-0.21],[615,-0.52],[620,-0.34],[625,0.07],[631.7,0.34],[636.7,0.62],[641.7,0.89],[646.7,0.75],[651.7,0.34],[660,0.41],[668.3,0.48],[678.3,0.48],[685,0.62],[690,0.41],[695,0.30],[701.7,-0.03],[706.7,-0.07],[711.7,-0.30],[716.7,-0.55],[721.7,-0.27],[725.7,-0.34],[731,0],[736.7,-0.07],[741.7,-0.07],[745.7,-0.52],[751,0.48],[756.7,0.21],[765,-0.14],[771.7,0.03],[778.3,-0.11],[785,-0.25],[791.7,-0.41],[796.7,-0.48],[803.3,-0.44],[808.3,-0.14],[813.3,0.27],[819,0.55],[823.3,0.27],[830,-0.07],[836.7,-0.21],[843.3,-0.27],[848.3,-0.34],[853.3,-0.27],[858.3,-0.48],[862,-0.34]];

const dsdp502 = [[6.7,-0.65],[11.7,-0.75],[16.7,-0.71],[21.7,-0.30],[25,0.04],[29,0.73],[34.3,0.89],[40,0.79],[46.7,0.66],[55,0.66],[64.3,0.66],[66.7,0.38],[71.7,0.32],[76.7,0.25],[82.3,0.29],[88.3,0.11],[93.3,0.21],[99,0.21],[103.3,-0.03],[108.3,-0.23],[113.3,-0.30],[118.3,-0.65],[121,-0.75],[131.7,-0.75],[134.3,-0.23],[136.7,0.66],[143.3,0.59],[150,0.48],[157.7,0.38],[164.3,0.79],[170,0.34],[178.3,0.32],[184.3,0.52],[190,-0.16],[195,-0.12],[200,-0.30],[206.7,-0.37],[215,-0.40],[222.3,-0.48],[228.3,-0.03],[238.3,-0.16],[243.3,-0.53],[253.3,-0.16],[265.7,0.45],[271.7,0.11],[281.7,0.11],[291.7,0.25],[297.7,-0.23],[303.3,0.38],[313.3,-0.26],[325,-0.30],[335,-0.37],[340,-0.09],[345,0.34],[348.3,-0.58],[353.3,-0.58],[356.7,-0.62],[358.3,-0.51],[361,-0.62],[363.3,-0.62],[365,-0.03],[373.3,0.66],[380,0.32],[390,0.38],[396.7,-0.09],[405,-0.44],[413.3,-0.58],[421,-0.71],[426.7,-0.44],[431.7,-0.23],[433.3,0.04],[436.7,0.45],[441.7,0.73],[446.7,0.52],[450,0.25],[453.3,0.45],[458.3,-0.09],[466.7,-0.44],[476.7,-0.37],[485,-0.23],[493.3,-0.03],[505,-0.30],[515,-0.23],[523.3,-0.16],[540,0.45],[559,0.38],[563.3,-0.44],[567.7,0.01],[573.3,-0.07],[580,-0.30],[586.7,-0.51],[591.7,-0.37],[596.7,0.04],[602.3,0.86],[608.3,0.59],[615,0.25],[619,0.52],[625,0.38],[631.7,0.25],[635.7,0.29],[640,-0.30],[644.3,-0.16],[650,-0.26],[656.7,-0.40],[663.3,-0.23],[667.7,-0.30],[671.7,0.04],[676.7,-0.03],[681.7,-0.16],[688.3,-0.16],[693.3,-0.37],[697.7,-0.51],[704.3,0.38],[710,0.25],[716.7,-0.16],[725,-0.51],[734.3,-0.71],[743.3,-0.44],[750,-0.30],[755,-0.16],[758.3,0.32],[763.3,-0.16],[768.3,0.04],[773.3,-0.23],[778.3,-0.44],[785,-0.53],[790,-0.58],[792.3,-0.95],[798.3,-0.65],[805,-0.30],[810,-0.09],[815,0.11],[818.3,0.01],[823.3,0.07]];

const records = [pc72, odp982, odp980, odp927, odp925, odp849, odp846, odp677, odp664, odp659, dsdp607, dsdp552, dsdp502];

// Layout: each record offset by 2 permil
const spacing = 2;
const rows = records.flatMap((rec, i) => rec.map(([age, d]) => ({record: names[i], age, y: i * spacing + d})));
const baselines = names.map((_, i) => i * spacing);

// Scale bar (1 permil)
const barAge = 810, barTop = 24.56, barLen = 1;

const font = "'Liberation Sans', Arial, Helvetica, sans-serif";
const ink = "#1f1f1f";

const chart = Plot.plot({
  width: 1002, height: 796,
  marginLeft: 115, marginRight: 25, marginTop: 51, marginBottom: 64,
  style: {fontFamily: font, fontSize: "16px", background: "#fff", color: ink, overflow: "hidden"},
  x: {domain: [0, 862]},
  y: {domain: [26, -2]},
  marks: [
    Plot.ruleX(stageBoundaries, {stroke: ink, strokeWidth: d => d === 793 ? 2 : 1.3}),
    Plot.line(rows, {x: "age", y: "y", z: "record", stroke: ink, strokeWidth: 1.15}),
    Plot.tickX(ageTicks, {x: d => d, insetTop: 673, stroke: ink, strokeWidth: 1.2}),
    Plot.tickX(ageTicks, {x: d => d, insetBottom: 673, stroke: ink, strokeWidth: 1.2}),
    Plot.tickY(baselines, {y: d => d, insetRight: 855, stroke: ink, strokeWidth: 1.2}),
    Plot.tickY(baselines, {y: d => d, insetLeft: 855, stroke: ink, strokeWidth: 1.2}),
    Plot.frame({stroke: ink, strokeWidth: 1.8}),
    Plot.axisX(ageTicks, {anchor: "bottom", tickSize: 0, tickPadding: 9, fontSize: 17, label: null}),
    Plot.axisY(baselines, {anchor: "left", tickSize: 0, tickPadding: 7, fontSize: 19.5, label: null, tickFormat: d => names[Math.round(d / spacing)]}),
    Plot.text(stageAges, {x: d => d, text: (d, i) => stageNames[i], frameAnchor: "top", lineAnchor: "middle", dy: -11, fontSize: 17}),
    Plot.text(["Marine Oxygen Isotopic Stages"], {frameAnchor: "top", lineAnchor: "middle", dy: -34, fontSize: 20}),
    Plot.text(["Preliminary Age (ka)"], {frameAnchor: "bottom", lineAnchor: "middle", dy: 48, fontSize: 20}),
    Plot.text(["Benthic δ18O"], {frameAnchor: "right", textAnchor: "middle", lineAnchor: "middle", dx: 14, dy: -24, rotate: -90, fontSize: 20}),
    Plot.text(["+"], {frameAnchor: "right", textAnchor: "middle", lineAnchor: "middle", dx: 14, dy: 70, rotate: -90, fontSize: 20}),
    Plot.text(["-"], {frameAnchor: "right", textAnchor: "middle", lineAnchor: "middle", dx: 14, dy: -118, rotate: -90, fontSize: 20}),
    Plot.ruleX([barAge], {y1: barTop, y2: barTop + barLen, stroke: ink, strokeWidth: 1.2}),
    Plot.ruleY([barTop, barTop + barLen], {x1: barAge - 1.5, x2: barAge + 1.5, stroke: ink, strokeWidth: 1.2}),
    Plot.text(["= 1‰"], {x: barAge + 5, y: barTop + barLen / 2, textAnchor: "start", fontSize: 16})
  ]
});
document.getElementById("chart").append(chart);
</script>
</body></html>
